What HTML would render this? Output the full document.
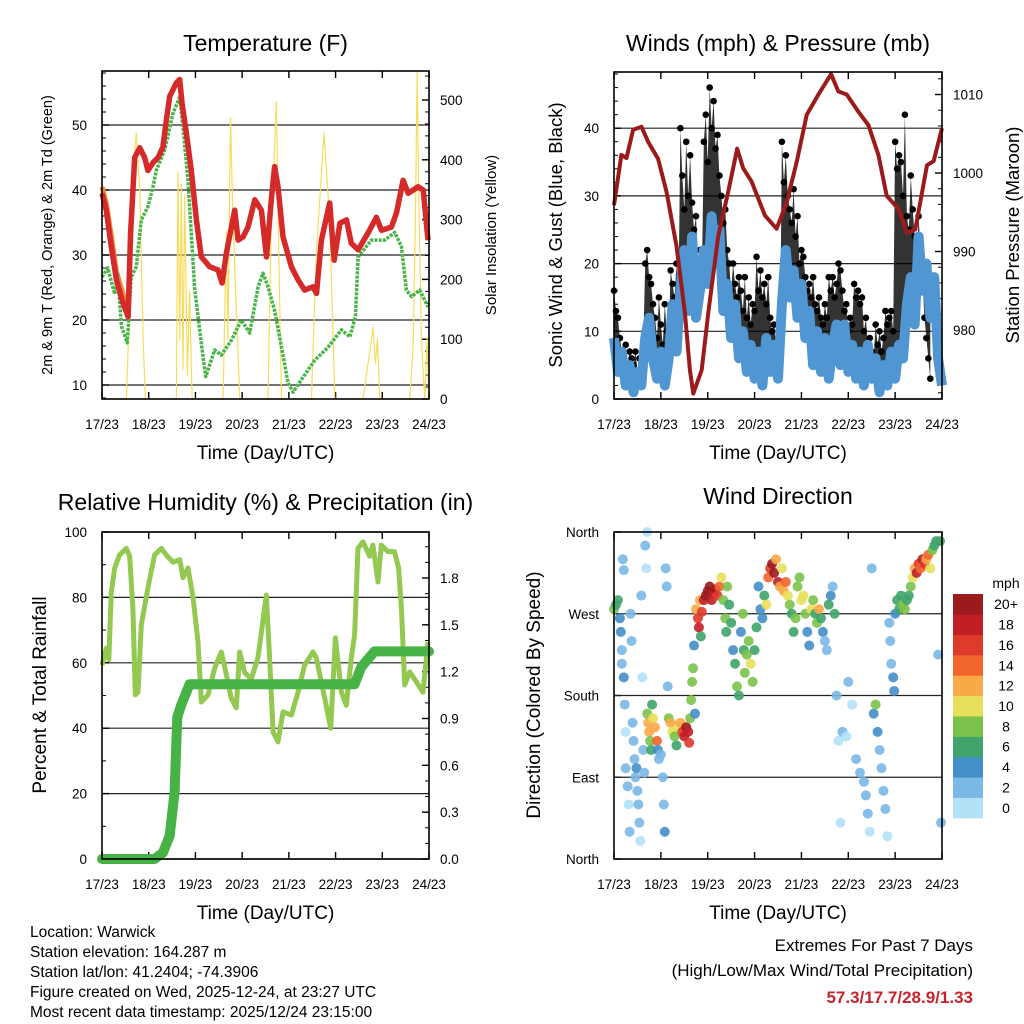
<!DOCTYPE html>
<html><head><meta charset="utf-8"><style>
html,body{margin:0;padding:0;background:#fff}
svg{display:block;font-family:"Liberation Sans",Arial,sans-serif}
.narrow{font-family:"Liberation Sans Narrow","Liberation Sans",sans-serif}
</style></head><body>
<svg id="chart" width="1024" height="1024" viewBox="0 0 1024 1024" xmlns="http://www.w3.org/2000/svg">
<g id="layer"></g>
<g class="narrow" font-size="15.5" fill="#000">
<text x="30" y="937">Location: Warwick</text>
<text x="30" y="957">Station elevation: 164.287 m</text>
<text x="30" y="977">Station lat/lon: 41.2404; -74.3906</text>
<text x="30" y="997">Figure created on Wed, 2025-12-24, at 23:27 UTC</text>
<text x="30" y="1017">Most recent data timestamp: 2025/12/24 23:15:00</text>
<text x="973" y="951" text-anchor="end" font-size="17">Extremes For Past 7 Days</text>
<text x="973" y="976" text-anchor="end" font-size="17">(High/Low/Max Wind/Total Precipitation)</text>
<text x="973" y="1003" text-anchor="end" font-size="17" font-weight="bold" fill="#c8232c">57.3/17.7/28.9/1.33</text>
</g>
</svg>
<script>
// ---------- DATA ----------
const dayLabels = ["17/23","18/23","19/23","20/23","21/23","22/23","23/23","24/23"];
const tempHours = [0,2.2,4.8,7.4,10.8,13.4,14.7,16.8,19.4,21.9,23.6,26.2,28.8,31.3,33.1,34.8,38.2,39.9,41.1,43.3,45.9,48.5,51,55.3,59.6,61.7,63.9,68.2,69.9,72.5,75,78.5,81.9,84.5,87,88.7,90.4,93,97.3,100.7,104.1,108.4,110.2,112.7,117,119.3,122.2,125.6,128.1,131.6,136.7,141,143.6,148.7,151.3,154.7,157.3,162.4,165,167.5];
const tempValues = [39.5,36.9,31.3,26.2,22.6,20.5,33.4,45,46.5,45,43,44.2,45,46.6,50.8,54.4,56.5,57,53.4,48.8,43,35.4,29.7,28.2,27.7,25.7,30.3,36.9,32.3,32.8,34.3,38.5,36.9,29.7,38.5,43.6,40.5,32.8,28.2,26.2,24.6,25.1,24.1,32.3,38,29.2,34.9,35.4,31.8,30.8,33.4,35.8,33.8,34.3,36.5,41.5,39.5,40.5,40,32.3];
const temp9mValues = [40.5,38,33,27.5,24,21,33.4,45,46.5,45,43,44.2,45,46.6,50.8,54.4,56.5,57,53.4,48.8,43,35.4,29.7,28.2,27.7,25.7,30.3,36.9,32.3,32.8,34.3,38.5,36.9,29.7,38.5,43.6,40.5,32.8,28.2,26.2,24.6,25.1,24.1,32.3,38,29.2,34.9,35.4,31.8,30.8,33.4,35.8,33.8,34.3,36.5,41.5,39.5,40.5,40,32.3];
const dewHours = [0,3,6.5,8,10,13,15,17.6,20.2,23.6,26.2,27.9,32.2,36.5,39.9,41.6,44.2,47.6,51,53.3,57.9,61.3,66.5,71.6,75.9,80.2,82.7,85.3,88.7,92.2,95.6,98.2,102.4,109.3,116.1,123,127.3,130.2,131.6,138.4,145.3,150.4,153.8,156.4,159,163.2,167.5];
const dewValues = [26.6,28,24,27,19,16.5,26.6,28.2,35.4,37.4,40.5,43,46.2,51.8,54.3,49.7,41.5,25,16.4,11.3,15.4,14.6,16.9,20,18,25.1,27.2,25.1,21.5,15.8,10.3,8.9,10.8,13.8,15.8,18.5,17.4,20.5,29.7,32.3,32.3,33.5,31.3,24.6,23.6,24.6,22];
const solarHours = [0,12.5,14.2,15.9,17.6,19.4,21.1,22.3,38.2,39,39.9,40.8,41.6,42.5,43.9,45,46.3,62.2,63.9,64.7,66,67.3,69,70.8,85.3,87,88.2,89.6,90.8,92.2,107.6,110.2,114.1,117,119.6,134.1,137.6,139.3,140.5,141.5,142.7,158.1,159.8,161,161.9,162.7,164.1,165.8,167,168];
const solarValues = [0,0,150,380,445,350,100,0,0,380,100,360,50,340,40,180,0,0,280,100,470,300,150,0,0,300,380,497,250,0,0,250,445,300,0,0,80,120,60,100,0,0,80,300,548,350,100,0,100,0];
const pressHours = [0,3.8,6.4,9.8,14.1,17.4,22.6,26.9,32,36.3,38.9,40.6,44.9,48.3,53.4,58.5,63.1,66.2,70.5,77.3,83.3,88.5,93.6,98.7,104.7,111.2,114.9,119.2,125.2,130.3,135.4,139.7,145.7,150,154.3,160.3,163.7,168];
const pressValues = [995.9,1002.3,1001.9,1005.5,1005.9,1004,1001.8,997.6,990.7,982.2,974.9,971.9,974.9,982.2,992,997.6,1003.1,1000.6,998.9,994.6,992.9,996.3,1001.4,1007.4,1010,1012.6,1010.4,1010,1007.8,1006.1,1002.3,997.1,995.4,992.4,992.8,1001,1001.5,1005.7];
const windValues = [9,4,7,2,5,1,4,2,9,12,6,3,7,2,6,14,7,16,22,13,24,12,16,22,17,27,20,25,13,17,9,14,6,10,4,8,3,7,2,9,4,8,3,14,22,15,19,12,17,9,13,5,10,4,9,3,8,11,5,11,4,8,3,7,2,8,3,6,1,5,2,7,3,8,6,14,18,11,24,16,20,12,18,6,2]; // every 2 hours
const gustValues = [16,13,12,9,7,6,8,5,7,6,5,7,4,6,5,8,20,22,18,17,14,12,9,15,11,8,14,10,9,19,17,15,20,14,40,33,28,38,30,36,29,25,27,20,22,18,38,42,35,46,40,44,37,39,33,30,26,28,22,20,16,20,17,15,18,16,13,18,12,15,11,14,13,21,16,19,15,17,14,18,12,10,11,8,9,7,38,32,36,30,28,26,31,24,27,20,22,21,18,16,17,15,18,14,13,15,12,11,14,12,18,16,18,15,17,20,19,16,13,14,10,12,11,17,15,16,14,15,10,12,8,9,7,6,11,8,10,7,9,13,11,12,13,10,38,34,36,35,30,42,27,25,33,28,24,20,27,22,18,12,9,6,3]; // hourly
const rhHours = [0,2.2,3.5,4.8,6.5,9,12.5,14.2,15.9,17.1,18.5,20.2,23.6,27,30.5,33,36.5,40,41.6,44.2,46.8,49.3,51,54.5,57.9,61.3,63.9,66.4,69,70.7,73.3,76.7,80.1,81.9,84.4,86.1,87.9,90.4,93,97.3,100.7,104.1,108.4,110.1,114.4,117.5,119.9,123,125.5,128.1,129.8,131.5,134.1,137.5,139.2,141.8,143.5,146.9,150.3,152.4,153.8,155.5,158.1,160.6,164.9,167.5];
const rhValues = [59.3,64.5,61,81.6,89,93,95,92.6,76.8,50.2,51,71.6,82.9,93,95,93,90.8,91.5,86,89,79.8,66.4,48,50.2,58.4,63.3,56.3,49.2,46.2,63.3,57,55,61.5,69.4,80.7,61.5,38.8,35.8,45,44,51,59.3,63.3,61.5,49.2,40,67.6,51,47,61.5,68.5,95,97,92.6,96,84.7,96,94,94,89,76.8,53.2,57.2,55,51,66.4];
const precipHours = [0,27,31.3,34.8,37.3,38.7,40.8,45,47.6,129.8,133.2,140,168];
const precipValues = [0,0,0.04,0.15,0.43,0.91,0.99,1.12,1.12,1.12,1.23,1.33,1.33];
const dirHours = [0,1,2,3,3.5,4,4,4.5,5,5,5.5,6,6,7,7.5,8,8.5,9,9.5,10,10.5,11,11.5,12,12.5,13,13.5,14,14.5,15,15.5,16,16.5,17,17,17.5,18,18.5,19,19.5,20,21,22,22.5,23,24,25,25.5,26,26.5,27,27.5,28,29,30,31,32,33,34,35,36,37,38,38.5,39,39.5,40,40.5,41,41.5,42,43,43.5,44,44.5,45,46,47,48,49,50,51,52,53,54,55,56,57,57.5,58,59,60,61,62,63,64,65,66,66.5,67,68,69,70,71,72,73,74,75,76,77,78,79,80,81,82,83,84,85,86,87,88,89,90,91,92,93,94,95,96,97,98,99,100,101,102,103,104,105,106,107,108,109,110,111,112,113,114,115,116,117,119,120,122,124,126,128,129,130,131,132,133,134,135,136,137,138,139,140,141,141.5,142,143,143.5,144,145,146,147,148,149,150,151,152,153,154,155,156,157,158,159,160,161,162,163,164,165,166,167,167.5];
const dirDegrees = [275,280,285,265,250,230,215,330,318,200,170,140,100,80,60,30,270,240,150,130,110,90,100,75,60,40,20,290,200,120,95,345,320,360,160,150,140,130,120,170,155,145,130,120,110,115,90,60,30,320,300,190,155,150,140,135,125,145,150,140,135,145,140,128,155,175,195,210,235,160,275,265,255,285,245,272,285,290,295,300,285,292,297,290,300,310,285,265,250,300,280,260,230,215,190,180,250,270,230,205,225,240,215,195,230,255,300,275,265,290,280,310,320,325,315,330,305,300,320,295,305,290,280,270,250,265,300,310,285,290,270,250,235,275,285,270,260,275,265,250,240,230,280,290,300,270,180,130,40,140,135,195,170,110,95,85,70,50,30,320,160,170,140,120,100,75,55,25,260,240,215,200,185,270,285,275,290,280,275,285,290,300,310,320,315,325,320,330,325,330,335,320,340,345,350,225,350,40];
const dirSpeeds = [8,7,6,4,4,3,3,3,2,4,2,1,2,2,1,2,2,3,2,3,3,2,4,2,3,2,0,2,1,2,2,2,1,0,8,12,12,9,6,6,10,12,14,4,3,2,3,2,4,2,3,3,8,12,10,8,6,10,12,16,18,20,18,16,8,8,9,8,4,4,12,16,18,12,6,16,18,20,20,20,18,18,20,16,14,10,8,8,6,8,6,6,4,6,8,6,4,8,6,8,8,8,10,8,6,6,4,4,4,6,10,14,16,20,20,12,18,12,10,12,14,10,8,6,6,8,8,8,10,10,8,4,4,10,8,6,8,12,6,4,2,3,6,4,2,6,2,1,0,2,1,2,1,2,2,2,3,2,1,2,4,8,4,2,2,3,2,1,2,3,3,4,4,4,6,6,6,8,8,6,6,8,10,12,18,16,14,18,16,12,14,10,8,6,6,2,6,2];
const speedBins = ["0","2","4","6","8","10","12","14","16","18","20+"];
const speedColors = ["#b3e2f8","#7ab8e6","#448fc8","#40a46a","#7cc24a","#e7e05a","#f9a948","#f2652c","#e03a2c","#c01f26","#9b1a1d"];

// ---------- HELPERS ----------
const NS = "http://www.w3.org/2000/svg";
const root = document.getElementById("layer");
function mk(tag, attrs, parent) {
  const e = document.createElementNS(NS, tag);
  for (const k in attrs) e.setAttribute(k, attrs[k]);
  (parent || root).appendChild(e);
  return e;
}
function txt(s, attrs, parent) { const e = mk("text", attrs, parent); e.textContent = s; return e; }
function scale(d0, d1, r0, r1) { return v => r0 + (v - d0) / (d1 - d0) * (r1 - r0); }
function poly(xs, ys, xf, yf) { return xs.map((x, i) => xf(x).toFixed(1) + "," + yf(ys[i]).toFixed(1)).join(" "); }

function panel(name, L, T, R, B, title, titleY) {
  const g = mk("g", {});
  
  
  const t = txt(title, {x: (L + R) / 2, y: titleY, "text-anchor": "middle", "font-size": 23}, g);
  
  
  return g;
}
function frame(g, name, L, T, R, B) {
  const r = mk("rect", {x: L, y: T, width: R - L, height: B - T, fill: "none", stroke: "#000", "stroke-width": 1.6}, g);
  
  
}
function xAxis(g, name, L, T, R, B) {
  const xf = scale(0, 168, L, R);
  const ax = mk("g", {}, g);
  
  
  dayLabels.forEach((lab, i) => {
    const x = xf(i * 24);
    mk("line", {x1: x, y1: T, x2: x, y2: T + 7, stroke: "#000", "stroke-width": 1.4}, ax);
    mk("line", {x1: x, y1: B, x2: x, y2: B - 7, stroke: "#000", "stroke-width": 1.4}, ax);
    const t = txt(lab, {x: x, y: B + 30, "text-anchor": "middle", "font-size": 13.5}, ax);
    
    
  });
  const tt = txt("Time (Day/UTC)", {x: (L + R) / 2, y: B + 60, "text-anchor": "middle", "font-size": 19}, ax);
  
  
  return xf;
}
function yAxis(g, name, side, X, yf, ticks, labels, minorStep, lo, hi, grid, L, R) {
  const ax = mk("g", {}, g);
  
  
  const dir = side === "left" ? 1 : -1;
  if (minorStep) {
    for (let v = lo; v <= hi + 1e-9; v += minorStep) {
      const y = yf(v);
      mk("line", {x1: X, y1: y, x2: X + dir * 4, y2: y, stroke: "#000", "stroke-width": 1}, ax);
    }
  }
  ticks.forEach((v, i) => {
    const y = yf(v);
    if (grid) mk("line", {x1: L, y1: y, x2: R, y2: y, stroke: "#222", "stroke-width": 1.2}, ax);
    mk("line", {x1: X, y1: y, x2: X + dir * 7, y2: y, stroke: "#000", "stroke-width": 1.4}, ax);
    const t = txt(labels[i], {x: side === "left" ? X - 15 : X + 11, y: y + 5, "text-anchor": side === "left" ? "end" : "start", "font-size": 13.5}, ax);
    
    
  });
}
function vTitle(g, name, s, x, y, size) {
  const t = txt(s, {x: x, y: y, "text-anchor": "middle", "font-size": size, transform: `rotate(-90 ${x} ${y})`}, g);
  
  
}

// ---------- PANEL 1: TEMPERATURE ----------
(function () {
  const L = 102, T = 71, R = 429, B = 399;
  const g = panel("temperature-panel", L, T, R, B, "Temperature (F)", 51);
  const xf = xAxis(g, "temperature", L, T, R, B);
  const yf = scale(10, 20, 385, 320);
  const sf = scale(0, 500, 399, 100);
  yAxis(g, "temperature-y-axis", "left", L, yf, [10,20,30,40,50], ["10","20","30","40","50"], 2, 8, 58, true, L, R);
  yAxis(g, "solar-y-axis", "right", R, sf, [0,100,200,300,400,500], ["0","100","200","300","400","500"], 20, 0, 540, false, L, R);
  const s = mk("polyline", {points: poly(solarHours, solarValues, xf, sf), fill: "none", stroke: "#f7dc5c", "stroke-width": 1.2, "stroke-linejoin": "round"}, g);
  
  
  const o = mk("polyline", {points: poly(tempHours, temp9mValues, xf, yf), fill: "none", stroke: "#f48a36", "stroke-width": 5, "stroke-linejoin": "round"}, g);
  
  
  const d = mk("polyline", {points: poly(dewHours, dewValues, xf, yf), fill: "none", stroke: "#4ab34a", "stroke-width": 3.5, "stroke-dasharray": "3 1.2", "stroke-linejoin": "round"}, g);
  
  
  const r = mk("polyline", {points: poly(tempHours, tempValues, xf, yf), fill: "none", stroke: "#d42a2a", "stroke-width": 5.5, "stroke-linejoin": "round"}, g);
  
  
  frame(g, "temperature", L, T, R, B);
  vTitle(g, "temperature-y-axis-title", "2m & 9m T (Red, Orange) & 2m Td (Green)", 52, 235, 14.5);
  vTitle(g, "solar-y-axis-title", "Solar Insolation (Yellow)", 496, 235, 15);
})();

// ---------- PANEL 2: WINDS ----------
(function () {
  const L = 614, T = 72, R = 942, B = 399;
  const g = panel("winds-panel", L, T, R, B, "Winds (mph) & Pressure (mb)", 51);
  const xf = xAxis(g, "winds", L, T, R, B);
  const yf = scale(0, 10, 399, 331.3);
  const pf = scale(980, 990, 330, 251.5);
  yAxis(g, "wind-y-axis", "left", L, yf, [0,10,20,30,40], ["0","10","20","30","40"], 2, 0, 48, true, L, R);
  yAxis(g, "pressure-y-axis", "right", R, pf, [980,990,1000,1010], ["980","990","1000","1010"], 2, 972, 1012, false, L, R);
  const gh = gustValues.map((v, i) => i);
  function windAt(h) {
    const k = Math.min(windValues.length - 2, Math.floor(h / 2));
    const f = (h - k * 2) / 2;
    return windValues[k] * (1 - f) + windValues[k + 1] * f;
  }
  const lower = gh.slice().reverse().map(h => xf(h).toFixed(1) + "," + yf(windAt(h)).toFixed(1)).join(" ");
  const area = mk("polygon", {points: poly(gh, gustValues, xf, yf) + " " + lower, fill: "#000", "fill-opacity": 0.8}, g);
  
  
  gustValues.forEach((v, i) => {
    const c = mk("circle", {cx: xf(i), cy: yf(v), r: 3.3, fill: "#000"}, g);
    
    
  });
  const wh = windValues.map((v, i) => i * 2);
  const w = mk("polyline", {points: poly(wh, windValues, xf, yf), fill: "none", stroke: "#4f96d2", "stroke-width": 10, "stroke-linejoin": "round"}, g);
  
  
  const p = mk("polyline", {points: poly(pressHours, pressValues, xf, pf), fill: "none", stroke: "#9b1b1b", "stroke-width": 4, "stroke-linejoin": "round"}, g);
  
  
  frame(g, "winds", L, T, R, B);
  vTitle(g, "wind-y-axis-title", "Sonic Wind & Gust (Blue, Black)", 562, 235, 18.5);
  vTitle(g, "pressure-y-axis-title", "Station Pressure (Maroon)", 1019, 235, 18.5);
})();

// ---------- PANEL 3: RH & PRECIP ----------
(function () {
  const L = 102, T = 532, R = 429, B = 859;
  const g = panel("humidity-panel", L, T, R, B, "Relative Humidity (%) & Precipitation (in)", 510);
  const xf = xAxis(g, "humidity", L, T, R, B);
  const yf = scale(0, 100, 859, 532);
  const rf = scale(0, 1.8, 859, 578);
  yAxis(g, "humidity-y-axis", "left", L, yf, [0,20,40,60,80,100], ["0","20","40","60","80","100"], 10, 0, 100, true, L, R);
  yAxis(g, "precip-y-axis", "right", R, rf, [0,0.3,0.6,0.9,1.2,1.5,1.8], ["0.0","0.3","0.6","0.9","1.2","1.5","1.8"], 0.1, 0, 2.05, false, L, R);
  const h = mk("polyline", {points: poly(rhHours, rhValues, xf, yf), fill: "none", stroke: "#93c950", "stroke-width": 5, "stroke-linejoin": "round"}, g);
  
  
  const p = mk("polyline", {points: poly(precipHours, precipValues, xf, rf), fill: "none", stroke: "#47b347", "stroke-width": 10, "stroke-linejoin": "round", "stroke-linecap": "round"}, g);
  
  
  frame(g, "humidity", L, T, R, B);
  vTitle(g, "humidity-y-axis-title", "Percent & Total Rainfall", 46, 695, 19);
})();

// ---------- PANEL 4: WIND DIRECTION ----------
(function () {
  const L = 614, T = 532, R = 942, B = 859;
  const g = panel("direction-panel", L, T, R, B, "Wind Direction", 504);
  const xf = xAxis(g, "direction", L, T, R, B);
  const yf = scale(0, 360, 859, 532);
  yAxis(g, "direction-y-axis", "left", L, yf, [0,90,180,270,360], ["North","East","South","West","North"], 0, 0, 0, false, L, R);
  [90,180,270].forEach(v => {
    const gl = mk("line", {x1: L, y1: yf(v), x2: R, y2: yf(v), stroke: "#222", "stroke-width": 1.2}, g);
    
    
  });
  dirHours.forEach((hr, i) => {
    const sp = dirSpeeds[i];
    const bin = Math.min(10, Math.floor(sp / 2));
    const c = mk("circle", {cx: xf(hr), cy: yf(dirDegrees[i]), r: 5, fill: speedColors[bin], "fill-opacity": 0.9}, g);
    
    
  });
  frame(g, "direction", L, T, R, B);
  vTitle(g, "direction-y-axis-title", "Direction (Colored By Speed)", 540, 695, 19);
  const lg = mk("g", {}, g);
  
  
  const lt = txt("mph", {x: 1006, y: 588, "text-anchor": "middle", "font-size": 14}, lg);
  
  
  const bh = (818 - 594) / speedBins.length;
  speedBins.forEach((lab, i) => {
    const y = 818 - (i + 1) * bh;
    const r = mk("rect", {x: 953, y: y, width: 30, height: bh + 0.3, fill: speedColors[i]}, lg);
    
    
    const t = txt(lab, {x: 1006, y: y + bh / 2 + 5, "text-anchor": "middle", "font-size": 14}, lg);
    
    
  });
})();
</script>
</body></html>
